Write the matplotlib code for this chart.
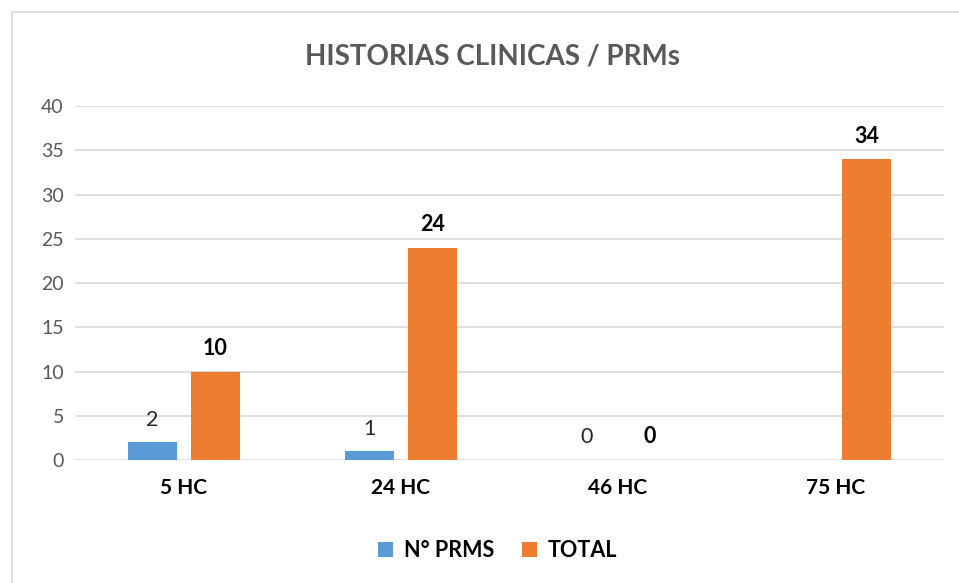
import numpy as np
import matplotlib.pyplot as plt
from matplotlib.patches import Rectangle

categories = ['5 HC', '24 HC', '46 HC', '75 HC']
prms = [2, 1, 0, np.nan]
total = [10, 24, 0, 34]

plt.rcParams['font.family'] = ['Lato', 'DejaVu Sans']

fig = plt.figure(figsize=(9.59, 5.83), dpi=100)
ax = fig.add_axes([0.0782, 0.211, 0.906, 0.607])

x = np.arange(len(categories))
w = 0.225
off = 0.145
blue = '#5B9BD5'
orange = '#ED7D31'

b1 = ax.bar(x - off, prms, w, color=blue, label='N° PRMS', zorder=3)
b2 = ax.bar(x + off, total, w, color=orange, label='TOTAL', zorder=3)

for xi, v in zip(x, prms):
    if not np.isnan(v):
        ax.annotate(f'{int(v)}', (xi - off, v), xytext=(0, 9), textcoords='offset points',
                    ha='center', va='bottom', fontsize=15.5, color='#262626')
for xi, v in zip(x, total):
    ax.annotate(f'{int(v)}', (xi + off, v), xytext=(0, 9), textcoords='offset points',
                ha='center', va='bottom', fontsize=15.5, fontweight='bold', color='black')

ax.set_xlim(-0.5, len(categories) - 0.5)
ax.set_ylim(0, 40)
ax.set_yticks(range(0, 41, 5))
ax.set_xticks(x)
ax.set_xticklabels(categories, fontsize=15, fontweight='bold', color='black')
ax.tick_params(axis='y', labelsize=14, labelcolor='#595959', length=0, pad=8)
ax.tick_params(axis='x', length=0, pad=13)
ax.grid(axis='y', color='#D9D9D9', linewidth=1.2, zorder=0)
for s in ax.spines.values():
    s.set_visible(False)

fig.text(0.514, 0.903, 'HISTORIAS CLINICAS / PRMs', ha='center', va='center',
         fontsize=20, fontweight='bold', color='#595959')

leg = fig.legend(handles=[b1, b2], loc='center', bbox_to_anchor=(0.519, 0.056), ncol=2,
                 frameon=False, fontsize=15.5, handlelength=0.7, handleheight=0.7,
                 columnspacing=1.3, handletextpad=0.5)
for t in leg.get_texts():
    t.set_fontweight('bold')

fig.patches.append(Rectangle((12 / 959, -0.1), 2, 1.1 - 12 / 583, transform=fig.transFigure,
                             fill=False, edgecolor='#D9D9D9', linewidth=1.2))

fig.savefig('out.png', dpi=100)
